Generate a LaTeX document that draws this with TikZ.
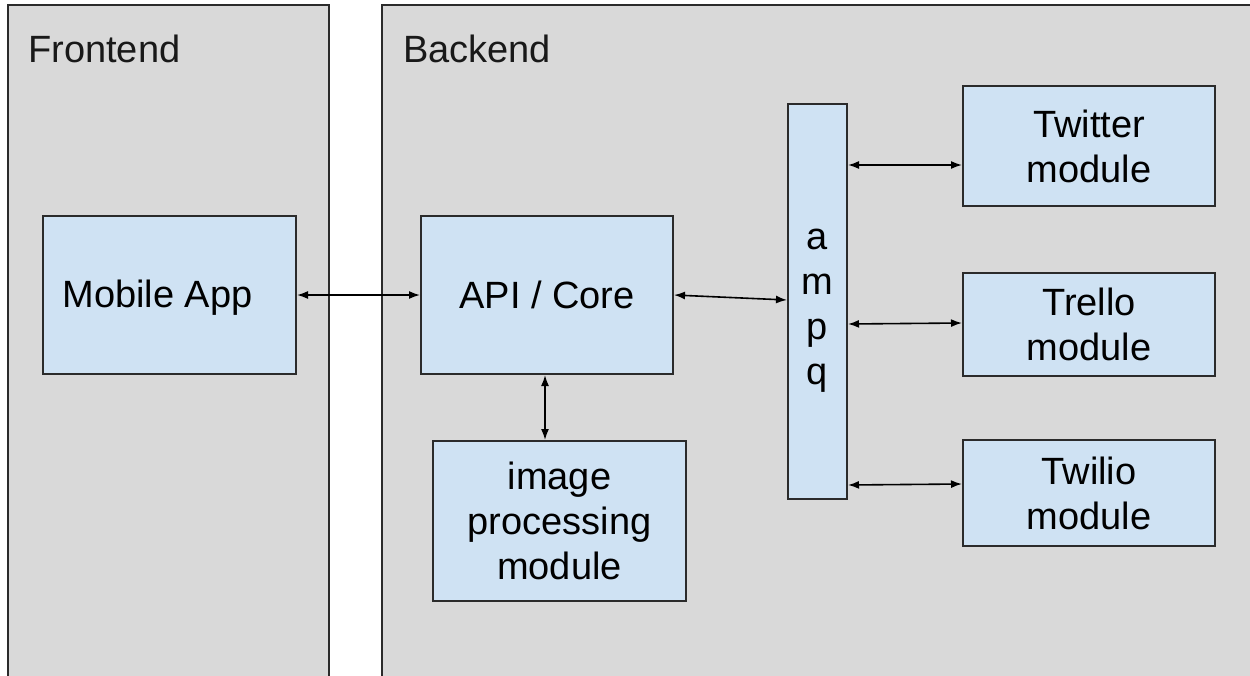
\documentclass[tikz,border=0pt]{standalone}
\usepackage{fontspec}
\setmainfont{Liberation Sans}
\usetikzlibrary{arrows.meta,calc}
\definecolor{panelgrey}{HTML}{D9D9D9}
\definecolor{boxblue}{HTML}{CFE2F3}
\definecolor{edgegrey}{HTML}{2B2B2B}
\tikzset{
  panelline/.style={draw=edgegrey,line width=2pt},
  box/.style={draw=edgegrey,fill=boxblue,line width=2pt,rectangle,inner sep=0pt,align=center,
    font=\fontsize{38}{45}\selectfont},
  title/.style={inner sep=0pt,anchor=base west,font=\fontsize{38}{45}\selectfont,text=black!90},
  plain/.style={inner sep=0pt,align=center,font=\fontsize{38}{45}\selectfont},
  link/.style={draw=black,line width=1.6pt,{Latex[length=11pt,width=8pt]}-{Latex[length=11pt,width=8pt]}}
}
\begin{document}
\begin{tikzpicture}[x=1pt,y=-1pt]
\useasboundingbox (0,0) rectangle (1250,675);
\clip (0,0) rectangle (1250,675);
% panels
\fill[panelgrey] (8,5) rectangle (329,680);
\draw[panelline] (8,680) -- (8,5) -- (329,5) -- (329,680);
\fill[panelgrey] (382,5) rectangle (1260,680);
\draw[panelline] (382,680) -- (382,5) -- (1260,5);
\node[title] (fe) at (28,62) {Frontend};
\node[title] (be) at (403,62) {Backend};
% boxes
\node[box,minimum width=253pt,minimum height=158pt] (mobile) at (169.5,295) {};
\node[plain] (mobiletext) at (157.5,298) {Mobile App};
\node[box,minimum width=252pt,minimum height=158pt] (api) at (547,295) {API / Core};
\node[box,minimum width=253pt,minimum height=160pt] (image) at (559.5,521) {image\\processing\\module};
\node[box,minimum width=59pt,minimum height=395pt] (ampq) at (817.5,301.5) {};
\node[plain] (ampqtext) at (817.5,311) {a\\m\\p\\q};
\node[box,minimum width=252pt,minimum height=120pt] (twitter) at (1089,146) {Twitter\\module};
\node[box,minimum width=252pt,minimum height=103pt] (trello) at (1089,324.5) {Trello\\module};
\node[box,minimum width=252pt,minimum height=106pt] (twilio) at (1089,493) {Twilio\\module};
% connector end points
\coordinate (apibot) at ($(api.south)+(-2,0)$);
\coordinate (imgtop) at (apibot |- image.north);
\coordinate (apiright) at (api.east);
\coordinate (ampqa) at ($(ampq.west)+(0,-1.5)$);
\coordinate (ampqtw) at ($(ampq.north east)+(0,62)$);
\coordinate (twin) at ($(twitter.south west)+(0,-42)$);
\coordinate (ampqtr) at ($(ampq.north east)+(0,221)$);
\coordinate (trin) at ($(trello.west)+(0,-1.5)$);
\coordinate (ampqtl) at ($(ampq.north east)+(0,382)$);
\coordinate (tlin) at ($(twilio.west)+(0,-9)$);
% connectors
\draw[link] (mobile.east) -- (api.west);
\draw[link] (api.east) -- (ampqa);
\draw[link] (apibot) -- (imgtop);
\draw[link] (ampqtw) -- (twin);
\draw[link] (ampqtr) -- (trin);
\draw[link] (ampqtl) -- (tlin);
\end{tikzpicture}
\end{document}
